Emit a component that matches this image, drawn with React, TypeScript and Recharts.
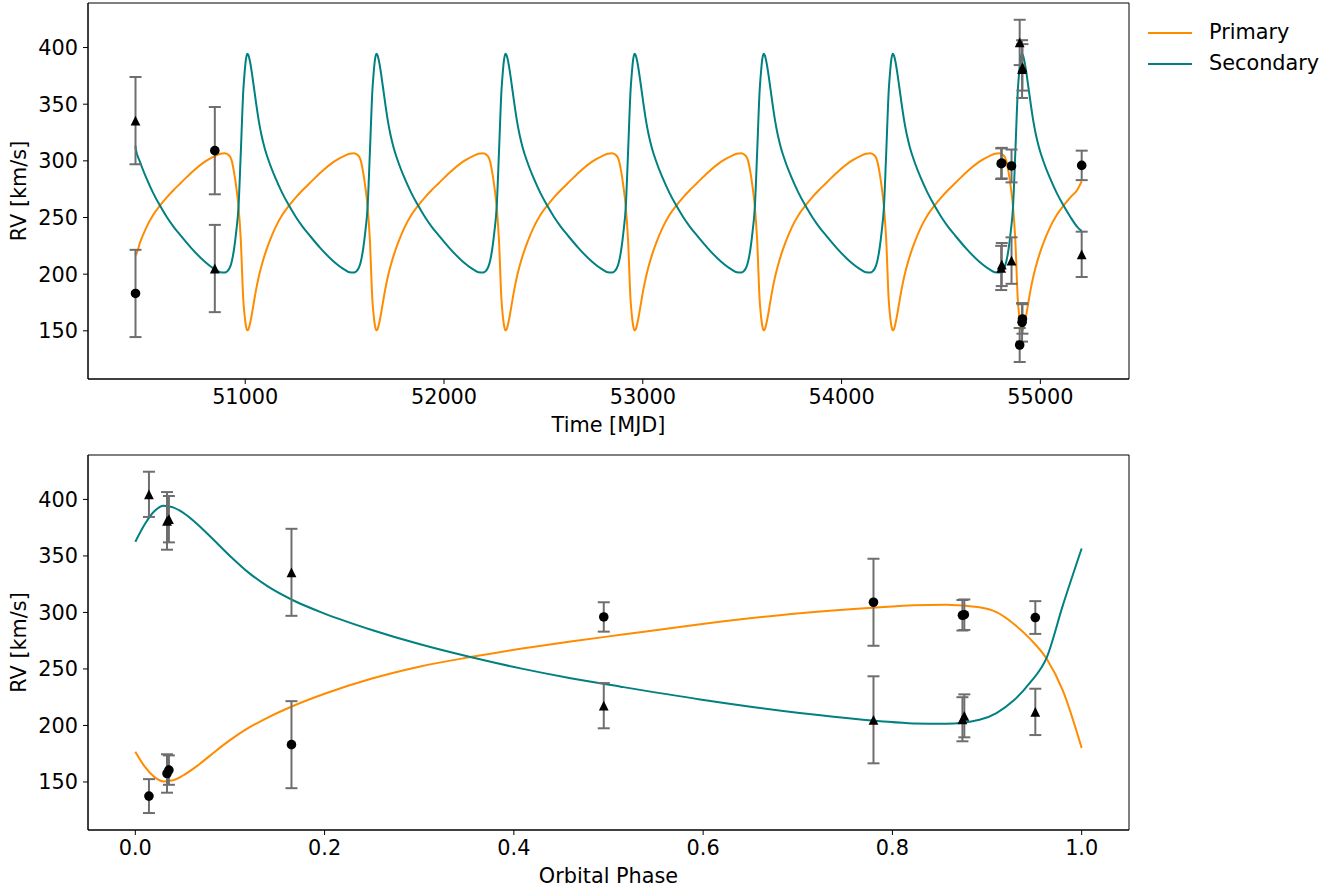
import React from 'react';
import { ComposedChart, Line, Scatter, ErrorBar, XAxis, YAxis, ReferenceArea } from 'recharts';

const FONT = '"DejaVu Sans", sans-serif';
const FS = 20.8;
const ORANGE = '#ff8c00';
const TEAL = '#008080';
const ERR_GRAY = '#6e6e6e';

// model RV curve over one orbit
const modelPhase = [0, 0.01, 0.02, 0.03, 0.04, 0.05, 0.065, 0.08, 0.1, 0.12, 0.14, 0.166, 0.2, 0.25, 0.3, 0.354, 0.407, 0.46, 0.513, 0.597, 0.702, 0.787, 0.822, 0.857, 0.892, 0.91, 0.928, 0.945, 0.963, 0.98, 1.0];
const modelPrimary = [176.8, 163.5, 154.5, 150.5, 151.5, 155.5, 164, 174, 187, 198, 207, 217, 228, 241.5, 252, 260.5, 267.8, 274.3, 280.2, 289.5, 299.3, 304.6, 306.3, 306.8, 304.5, 300.2, 290, 277, 259, 231, 180];
const modelSecondary = [362.5, 378, 389.5, 394.5, 393, 388.5, 378.5, 366.5, 350, 335, 323, 311, 299, 284.5, 272, 260.5, 250.5, 241.8, 234.3, 223, 211, 203.8, 201.8, 201.5, 205, 211, 222, 237.5, 260, 306, 356.6];

// ephemeris and curve ends
const PERIOD = 649.4;
const EPOCH = 50341;
const T_START = 50448;
const T_END = 55208;
const startRV = [218.5, 313.5];
const endRV = [282, 238];

// observations
const obsTime = [50448, 50847, 54803, 54806, 54855, 54896, 54908, 54910, 55208];
const obsPhase = [0.165, 0.78, 0.874, 0.876, 0.951, 0.0144, 0.0335, 0.0355, 0.495];
const rvPrimary = [183, 309, 297.5, 298, 295.5, 137.5, 157.5, 160.5, 296];
const errPrimary = [38.5, 38.5, 13.5, 13.5, 14.5, 15, 17, 13, 13];
const rvSecondary = [335.5, 205, 205.5, 208.5, 212, 404.5, 381, 382.5, 217.5];
const errSecondary = [38.5, 38.5, 19.5, 19, 20.5, 20, 25.5, 20.5, 20];

const timeTicks = [51000, 52000, 53000, 54000, 55000];
const phaseTicks = [0, 0.2, 0.4, 0.6, 0.8, 1.0];
const rvTicks = [150, 200, 250, 300, 350, 400];

const TIME_DOMAIN: [number, number] = [50209, 55446];
const PHASE_DOMAIN: [number, number] = [-0.05, 1.05];
const RV_DOMAIN: [number, number] = [107.5, 439.3];

// the time panel repeats the one-orbit model every period
const timeModel: { x: number; p: number; s: number }[] = [{ x: T_START, p: startRV[0], s: startRV[1] }];
for (let k = 0; k < 8; k++) {
  modelPhase.forEach((ph, i) => {
    if (ph === 1) return;
    const t = EPOCH + PERIOD * (k + ph);
    if (t > T_START && t < T_END) timeModel.push({ x: t, p: modelPrimary[i], s: modelSecondary[i] });
  });
}
timeModel.push({ x: T_END, p: endRV[0], s: endRV[1] });

const phaseModel = modelPhase.map((ph, i) => ({ x: ph, p: modelPrimary[i], s: modelSecondary[i] }));

const topPrim = obsTime.map((t, i) => ({ x: t, y: rvPrimary[i], e: errPrimary[i] }));
const topSec = obsTime.map((t, i) => ({ x: t, y: rvSecondary[i], e: errSecondary[i] }));
const botPrim = obsPhase.map((p, i) => ({ x: p, y: rvPrimary[i], e: errPrimary[i] }));
const botSec = obsPhase.map((p, i) => ({ x: p, y: rvSecondary[i], e: errSecondary[i] }));

const Dot = (props: any) => <circle cx={props.cx} cy={props.cy} r={4.8} fill="#000" />;
const Tri = (props: any) => {
  const { cx, cy } = props;
  const r = 4.9;
  return <path d={`M${cx},${cy - r}L${cx - r},${cy + r}L${cx + r},${cy + r}Z`} fill="#000" />;
};

const tickStyle = { fill: '#000', fontSize: FS, fontFamily: FONT };

const yLabel = (props: any) => {
  const vb = props.viewBox;
  const cx = vb.x + 11;
  const cy = vb.y + vb.height / 2;
  return (
    <text x={cx} y={cy} transform={`rotate(-90 ${cx} ${cy})`} textAnchor="middle" dominantBaseline="central" fill="#000" fontSize={FS} fontFamily={FONT}>
      RV [km/s]
    </text>
  );
};

function Panel({ model, prim, sec, xDomain, xTicks, xLabel, fmt, top }: any) {
  const axisH = top ? 61 : 58;
  return (
    <ComposedChart width={1337} height={440} data={model} margin={{ top: top ? 3 : 7, right: 208, bottom: 0, left: 8 }}>
      <XAxis
        dataKey="x"
        type="number"
        domain={xDomain}
        ticks={xTicks}
        allowDataOverflow
        height={axisH}
        stroke="#000"
        tickSize={5}
        tickMargin={5}
        tick={tickStyle}
        tickFormatter={fmt}
        label={{ value: xLabel, position: 'insideBottom', offset: top ? 8 : 5, fill: '#000', fontSize: FS, fontFamily: FONT }}
      />
      <YAxis
        type="number"
        domain={RV_DOMAIN}
        ticks={rvTicks}
        allowDataOverflow
        width={80}
        stroke="#000"
        tickSize={5}
        tickMargin={5}
        tick={tickStyle}
        label={{ content: yLabel }}
      />
      <ReferenceArea x1={xDomain[0]} x2={xDomain[1]} y1={RV_DOMAIN[0]} y2={RV_DOMAIN[1]} fill="none" stroke="#000" strokeWidth={1} ifOverflow="visible" />
      <Line dataKey="p" type="monotone" stroke={ORANGE} strokeWidth={2} dot={false} isAnimationActive={false} />
      <Line dataKey="s" type="monotone" stroke={TEAL} strokeWidth={2} dot={false} isAnimationActive={false} />
      <Scatter data={prim} dataKey="y" shape={Dot} isAnimationActive={false}>
        <ErrorBar dataKey="e" direction="y" width={6} stroke={ERR_GRAY} strokeWidth={2} isAnimationActive={false} />
      </Scatter>
      <Scatter data={sec} dataKey="y" shape={Tri} isAnimationActive={false}>
        <ErrorBar dataKey="e" direction="y" width={6} stroke={ERR_GRAY} strokeWidth={2} isAnimationActive={false} />
      </Scatter>
    </ComposedChart>
  );
}

export default function App() {
  return (
    <div style={{ position: 'absolute', left: 0, top: 0, width: 1337, height: 888, background: '#fff', fontFamily: FONT }}>
      <div style={{ position: 'absolute', left: 0, top: 0 }}>
        <Panel model={timeModel} prim={topPrim} sec={topSec} xDomain={TIME_DOMAIN} xTicks={timeTicks} xLabel="Time [MJD]" fmt={(v: number) => String(v)} top />
      </div>
      <div style={{ position: 'absolute', left: 0, top: 448 }}>
        <Panel model={phaseModel} prim={botPrim} sec={botSec} xDomain={PHASE_DOMAIN} xTicks={phaseTicks} xLabel="Orbital Phase" fmt={(v: number) => v.toFixed(1)} />
      </div>
      <div style={{ position: 'absolute', left: 1148, top: 17, fontSize: FS, color: '#000', lineHeight: '31px' }}>
        {[['Primary', ORANGE], ['Secondary', TEAL]].map(([name, c]) => (
          <div key={name} style={{ display: 'flex', alignItems: 'center', height: 31 }}>
            <svg width={44} height={4} style={{ marginRight: 17 }}>
              <line x1={0} y1={2} x2={44} y2={2} stroke={c} strokeWidth={2} />
            </svg>
            <span>{name}</span>
          </div>
        ))}
      </div>
    </div>
  );
}
